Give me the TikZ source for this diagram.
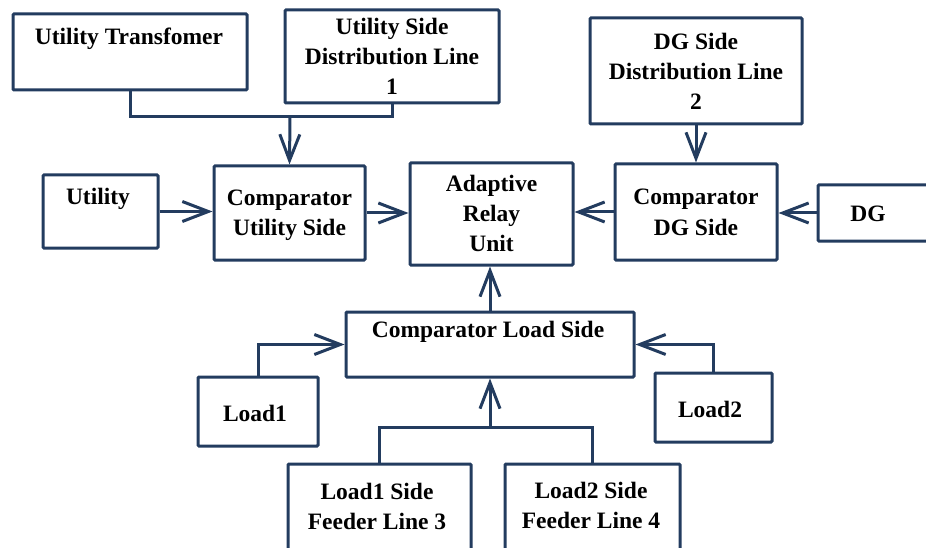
\documentclass[tikz,border=0pt]{standalone}
\usepackage{fontspec}
\setmainfont{Liberation Serif}[BoldFont={Liberation Serif Bold}]
\usetikzlibrary{arrows.meta}
\definecolor{navy}{RGB}{35,60,95}
\newcommand{\mlines}[1]{\begin{tabular}[t]{@{}c@{}}#1\end{tabular}}
\begin{document}
\begin{tikzpicture}[x=1pt,y=-1pt,
  box/.style={draw=navy, line width=3pt, rectangle, inner sep=0pt, rounded corners=1pt},
  lbl/.style={anchor=base, inner sep=0pt, text=black, font=\fontsize{23.5}{30}\selectfont\bfseries},
  conn/.style={draw=navy, line width=3pt},
  arr/.style={conn, -{Straight Barb[length=26pt,width=20pt]}}]
\useasboundingbox (0,0) rectangle (926,548);
\clip (0,0) rectangle (926,548);
% boxes
\node[box, minimum width=234pt, minimum height=76pt] (ut) at (130,52) {};
\node[box, minimum width=214pt, minimum height=93pt] (usd) at (392,56.5) {};
\node[box, minimum width=212pt, minimum height=106pt] (dgsd) at (696,71) {};
\node[box, minimum width=115pt, minimum height=73pt] (util) at (100.5,211.5) {};
\node[box, minimum width=151pt, minimum height=94pt] (cu) at (289.5,213) {};
\node[box, minimum width=163pt, minimum height=102pt] (aru) at (491.5,214) {};
\node[box, minimum width=162pt, minimum height=96pt] (cdg) at (696,212) {};
\node[box, minimum width=150pt, minimum height=56pt] (dg) at (893,213) {};
\node[box, minimum width=288pt, minimum height=65pt] (cls) at (490,344.5) {};
\node[box, minimum width=120pt, minimum height=69pt] (l1) at (258,411.5) {};
\node[box, minimum width=117pt, minimum height=69pt] (l2) at (713.5,407.5) {};
\node[box, minimum width=183pt, minimum height=110pt] (f3) at (379.5,519) {};
\node[box, minimum width=175pt, minimum height=110pt] (f4) at (592.5,519) {};
% labels
\node[lbl] (ut-t) at (129,45) {Utility Transfomer};
\node[lbl] (usd-t) at (392,35) {\mlines{Utility Side\\Distribution Line\\1}};
\node[lbl] (dgsd-t) at (696,50) {\mlines{DG Side\\Distribution Line\\2}};
\node[lbl] (util-t) at (98,205) {Utility};
\node[lbl] (cu-t) at (289.5,206) {\mlines{Comparator\\Utility Side}};
\node[lbl] (aru-t) at (491.5,192) {\mlines{Adaptive\\Relay\\Unit}};
\node[lbl] (cdg-t) at (696,205) {\mlines{Comparator\\DG Side}};
\node[lbl] (dg-t) at (868,222) {DG};
\node[lbl] (cls-t) at (488,337) {Comparator Load Side};
\node[lbl] (l1-t) at (255,421) {Load1};
\node[lbl] (l2-t) at (710,417) {Load2};
\node[lbl] (f3-t) at (377,499) {\mlines{Load1 Side\\Feeder Line 3}};
\node[lbl] (f4-t) at (591,498) {\mlines{Load2 Side\\Feeder Line 4}};
% junctions
\coordinate (j1) at (290,117);
\coordinate (j2) at (490,427);
% connectors
\draw[conn] (ut.south) |- (j1) -| (usd.south);
\draw[arr] (j1) -- (cu.north);
\draw[arr] (dgsd.south) -- (cdg.north);
\draw[arr] (util.east) -- (util.east -| cu.west);
\draw[arr] (cu.east) -- (cu.east -| aru.west);
\draw[arr] (cdg.west) -- (cdg.west -| aru.east);
\draw[arr] (dg.west) -- (dg.west -| cdg.east);
\draw[arr] (cls.north) -- (cls.north |- aru.south);
\draw[arr] (l1.north) |- (cls.west);
\draw[arr] (l2.north) |- (cls.east);
\draw[conn] (f3.north) |- (j2) -| (f4.north);
\draw[arr] (j2) -- (cls.south);
\end{tikzpicture}
\end{document}
